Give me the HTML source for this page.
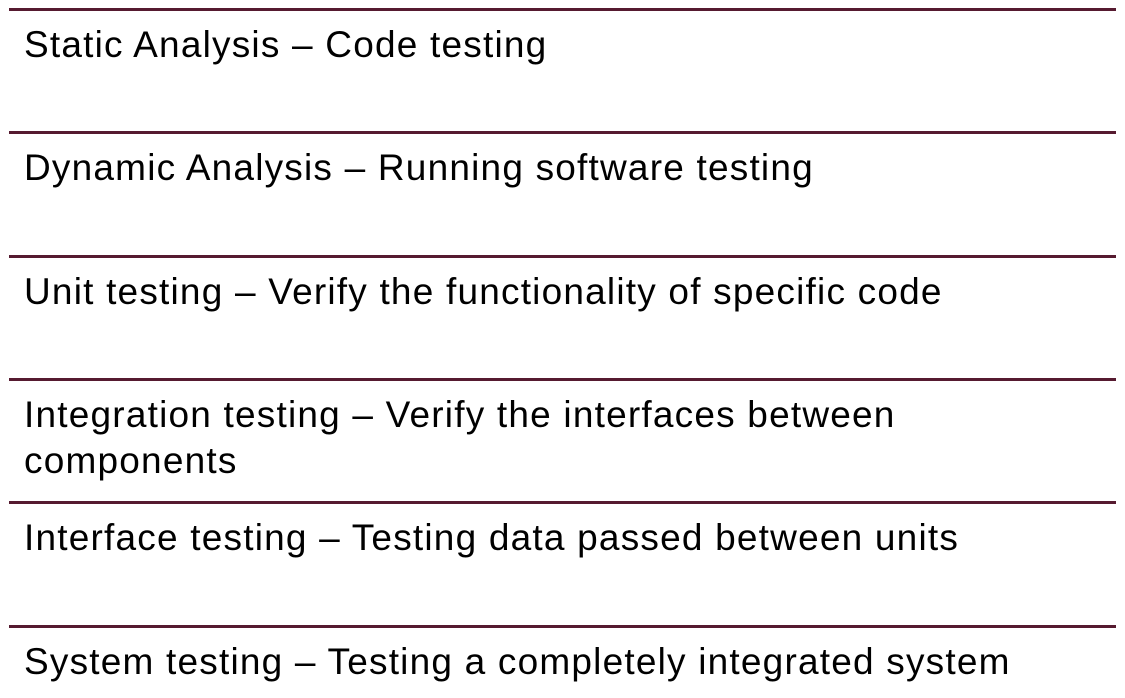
<!DOCTYPE html>
<html><head><style>
body{margin:0;width:1125px;height:698px;background:#fff;position:relative;overflow:hidden;font-family:"Liberation Sans",sans-serif;}
.l{position:absolute;left:9px;width:1107px;height:3px;background:#561a30;}
.t{position:absolute;left:24px;font-size:37px;letter-spacing:1.2px;color:#000;line-height:46px;white-space:nowrap;}
</style></head><body>
<div class="l" style="top:8px"></div>
<div class="l" style="top:131px"></div>
<div class="l" style="top:255px"></div>
<div class="l" style="top:378px"></div>
<div class="l" style="top:501px"></div>
<div class="l" style="top:625px"></div>
<div class="t" style="top:22px">Static Analysis – Code testing</div>
<div class="t" style="top:145px">Dynamic Analysis – Running software testing</div>
<div class="t" style="top:269px">Unit testing – Verify the functionality of specific code</div>
<div class="t" style="top:392px">Integration testing – Verify the interfaces between<br>components</div>
<div class="t" style="top:515px">Interface testing – Testing data passed between units</div>
<div class="t" style="top:639px">System testing – Testing a completely integrated system</div>
</body></html>
